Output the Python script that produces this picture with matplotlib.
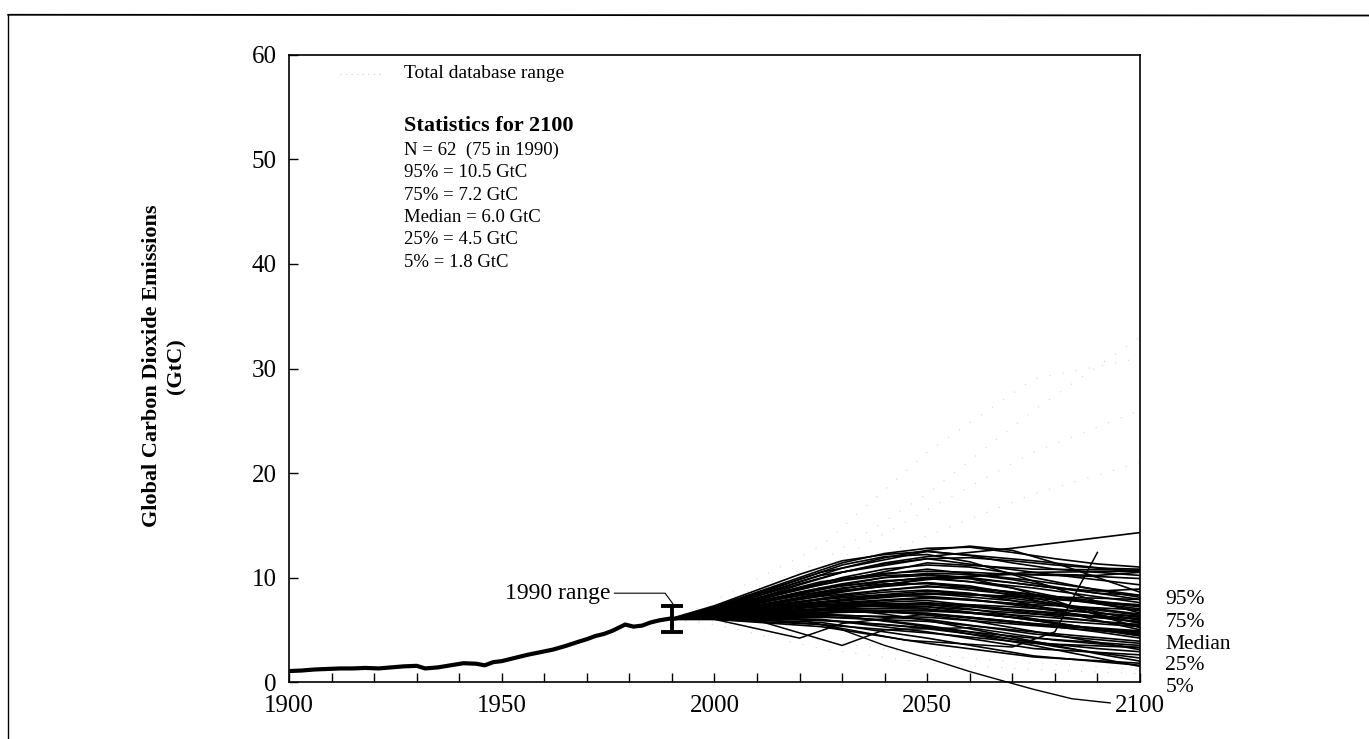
import matplotlib
matplotlib.use("Agg")
import matplotlib.pyplot as plt
from matplotlib.lines import Line2D

plt.rcParams['font.family'] = ['Liberation Serif', 'DejaVu Serif']

# historic emissions 1900-1990 (GtC)
hist_years = [1900, 1903, 1906, 1909, 1912, 1915, 1918, 1921, 1924, 1927, 1930, 1932,
              1935, 1938, 1941, 1944, 1946, 1948, 1950, 1953, 1956, 1959, 1962, 1965,
              1968, 1970, 1972, 1974, 1976, 1978, 1979, 1981, 1983, 1985, 1987, 1990]
hist_vals = [1.05, 1.1, 1.2, 1.25, 1.3, 1.3, 1.35, 1.3, 1.4, 1.5, 1.55, 1.3,
             1.4, 1.6, 1.8, 1.75, 1.6, 1.9, 2.0, 2.3, 2.6, 2.85, 3.1, 3.45,
             3.85, 4.1, 4.4, 4.6, 4.9, 5.3, 5.5, 5.3, 5.4, 5.7, 5.9, 6.1]

# scenarios reported every decade
years_dec = [1990, 2000, 2010, 2020, 2030, 2040, 2050, 2060, 2070, 2080, 2090, 2100]
scen_dec = [
    [6.0, 7.0, 8.2, 9.4, 10.5, 11.4, 12.0, 12.4, 12.8, 13.3, 13.8, 14.3],
    [6.0, 7.2, 8.6, 10.0, 11.4, 12.3, 12.8, 12.9, 12.4, 11.8, 11.3, 11.0],
    [6.1, 7.3, 8.8, 10.3, 11.6, 12.2, 12.5, 12.1, 11.4, 10.8, 10.5, 10.2],
    [6.0, 7.0, 8.2, 9.6, 10.9, 11.9, 12.6, 13.0, 12.6, 11.4, 10.0, 8.6],
    [6.0, 6.9, 8.0, 9.3, 10.5, 11.3, 11.8, 11.9, 11.6, 11.2, 10.9, 10.8],
    [5.9, 6.8, 7.8, 8.9, 10.0, 10.8, 11.2, 11.0, 10.4, 9.6, 8.8, 8.1],
    [6.0, 7.1, 8.4, 9.8, 11.2, 12.0, 12.2, 11.5, 10.3, 9.0, 7.7, 6.6],
    [6.1, 7.0, 8.0, 9.0, 9.9, 10.4, 10.6, 10.5, 10.3, 10.2, 10.1, 9.9],
    [6.0, 6.7, 7.5, 8.4, 9.3, 10.0, 10.4, 10.3, 9.8, 9.1, 8.5, 7.9],
    [6.0, 6.6, 7.3, 8.1, 8.9, 9.6, 10.0, 9.9, 9.5, 9.0, 8.5, 8.3],
    [6.0, 6.8, 7.6, 8.5, 9.2, 9.7, 9.9, 9.6, 9.0, 8.2, 7.5, 6.8],
    [6.0, 6.5, 7.1, 7.7, 8.3, 8.8, 9.1, 9.0, 8.6, 8.0, 7.5, 7.0],
    [6.0, 6.6, 7.2, 7.9, 8.6, 9.2, 9.5, 9.2, 8.5, 7.6, 6.7, 5.9],
    [6.0, 6.4, 6.9, 7.4, 7.9, 8.3, 8.5, 8.4, 8.0, 7.5, 7.0, 6.5],
    [6.0, 6.7, 7.5, 8.3, 9.0, 9.4, 9.4, 9.0, 8.3, 7.4, 6.5, 5.6],
    [6.0, 6.3, 6.7, 7.1, 7.5, 7.8, 8.0, 7.9, 7.5, 7.0, 6.6, 6.2],
    [6.0, 6.5, 7.0, 7.6, 8.2, 8.6, 8.8, 8.5, 7.8, 6.9, 5.9, 5.0],
    [6.0, 6.2, 6.5, 6.8, 7.1, 7.3, 7.4, 7.2, 6.8, 6.3, 5.8, 5.4],
    [6.0, 6.4, 6.8, 7.2, 7.4, 7.5, 7.4, 7.0, 6.4, 5.7, 5.0, 4.4],
    [6.0, 6.1, 6.3, 6.5, 6.7, 6.8, 6.8, 6.6, 6.2, 5.6, 5.1, 4.7],
    [6.0, 6.3, 6.6, 6.8, 6.9, 6.8, 6.4, 5.9, 5.2, 4.5, 3.8, 3.1],
    [6.0, 6.2, 6.3, 6.3, 6.2, 5.9, 5.4, 4.8, 4.1, 3.4, 2.8, 2.3],
    [6.0, 6.4, 6.7, 6.9, 6.9, 6.5, 5.9, 5.1, 4.3, 3.5, 2.7, 2.0],
    [6.0, 6.1, 6.1, 6.0, 5.8, 5.5, 5.1, 4.6, 4.1, 3.6, 3.2, 2.9],
    [6.0, 6.6, 7.3, 8.0, 8.7, 9.3, 9.8, 10.1, 10.3, 10.3, 10.2, 10.5],
    [6.0, 6.9, 7.9, 8.9, 9.7, 10.2, 10.3, 10.0, 9.5, 9.0, 8.7, 8.9],
    [6.0, 6.3, 6.6, 6.9, 7.2, 7.4, 7.5, 7.4, 7.2, 6.9, 6.6, 6.3],
    [6.0, 6.6, 7.2, 7.7, 8.1, 8.3, 8.2, 7.9, 7.4, 6.8, 6.2, 5.7],
    [6.0, 6.2, 6.4, 6.6, 6.7, 6.7, 6.5, 6.2, 5.8, 5.3, 4.8, 4.2],
    [6.0, 6.8, 7.7, 8.6, 9.4, 10.0, 10.2, 9.9, 9.0, 7.8, 6.4, 5.2],
]

# scenarios reported every 25 years
years_q = [1990, 2000, 2025, 2050, 2075, 2100]
scen_q = [
    [6.0, 7.1, 10.2, 11.8, 10.5, 9.3],
    [6.0, 7.0, 9.6, 10.8, 9.7, 8.3],
    [6.0, 6.8, 9.0, 10.0, 9.0, 7.6],
    [6.0, 6.9, 8.6, 9.5, 8.4, 7.3],
    [6.0, 6.7, 8.2, 9.2, 8.2, 7.2],
    [6.0, 6.6, 7.9, 8.7, 8.0, 7.4],
    [6.0, 6.5, 7.5, 8.1, 7.4, 6.9],
    [6.0, 6.6, 7.7, 8.5, 7.6, 6.4],
    [6.0, 6.4, 7.2, 7.6, 6.8, 6.0],
    [6.0, 6.3, 6.9, 7.2, 6.5, 6.1],
    [6.0, 6.5, 7.4, 7.8, 6.7, 5.8],
    [6.0, 6.2, 6.6, 6.9, 6.3, 5.5],
    [6.0, 6.4, 7.0, 7.0, 6.0, 5.3],
    [6.0, 6.3, 6.8, 6.6, 5.6, 4.9],
    [6.0, 6.2, 6.4, 6.2, 5.4, 4.6],
    [6.0, 6.5, 7.3, 7.2, 5.9, 4.5],
    [6.0, 6.1, 6.2, 5.8, 4.8, 3.9],
    [6.0, 6.3, 6.5, 6.0, 4.6, 3.7],
    [6.0, 6.1, 5.9, 5.2, 4.2, 3.5],
    [6.0, 6.0, 5.5, 4.7, 3.7, 3.3],
    [6.0, 6.2, 6.0, 4.8, 3.2, 2.6],
    [6.0, 6.1, 5.7, 4.2, 2.5, 1.6],
    [6.0, 6.0, 5.3, 3.7, 2.4, 1.8],
    [6.0, 6.4, 6.6, 5.3, 3.5, 1.5],
    [6.0, 6.9, 9.3, 11.4, 10.8, 10.7],
    [6.0, 7.2, 10.5, 12.5, 11.6, 10.5],
    [6.0, 6.7, 8.4, 9.9, 10.5, 10.6],
    [6.0, 6.4, 7.6, 8.4, 8.2, 7.9],
]

# scenarios with irregular reporting years
odd_years = [
    [1990, 2000, 2020, 2030, 2050, 2075, 2100],
    [1990, 2000, 2010, 2030, 2040, 2060, 2080, 2100],
    [1990, 2000, 2025, 2045, 2070, 2080, 2090],
]
odd_vals = [
    [6.0, 6.0, 4.2, 5.6, 6.5, 5.5, 4.8],
    [6.0, 6.2, 5.9, 3.5, 5.0, 5.2, 4.0, 3.3],
    [6.0, 6.3, 5.5, 4.0, 3.35, 4.8, 12.4],
]

# scenario that goes negative
neg_years = [1990, 2000, 2010, 2020, 2030, 2040, 2050, 2060, 2067, 2075, 2084, 2093]
neg_vals = [6.0, 6.3, 6.5, 6.0, 5.0, 3.5, 2.3, 1.0, 0.2, -0.7, -1.6, -2.0]

# faint lines of the total database range
db_years = [1990, 2000, 2025, 2050, 2075, 2100]
db_vals = [
    [6.0, 7.4, 11.5, 18.0, 26.0, 33.0],
    [6.0, 7.2, 10.8, 16.5, 22.0, 26.0],
    [6.0, 7.8, 13.0, 22.0, 29.0, 31.0],
    [6.0, 7.0, 9.5, 14.0, 18.0, 21.0],
    [6.0, 5.8, 4.0, 2.6, 1.8, 1.2],
    [6.0, 5.5, 3.2, 1.8, 1.2, 0.8],
]

# statistics text
stats_lines = ["N = 62  (75 in 1990)", "95% = 10.5 GtC", "75% = 7.2 GtC",
               "Median = 6.0 GtC", "25% = 4.5 GtC", "5% = 1.8 GtC"]
pct_labels = ["95%", "75%", "Median", "25%", "5%"]
pct_pos = [7.9, 5.7, 3.6, 1.6, -0.5]

fig = plt.figure(figsize=(13.69, 7.39), dpi=100)
ax = fig.add_axes([0.2111, 0.0771, 0.6216, 0.8485])

# page frame from the scan
fig.add_artist(Line2D([0.006, 1.0], [0.980, 0.979], color='black', lw=1.3,
                      transform=fig.transFigure))
fig.add_artist(Line2D([0.006, 0.006], [0.980, 0.0], color='black', lw=1.0,
                      transform=fig.transFigure))

for vals in db_vals:
    ax.plot(db_years, vals, color='#d6d6d6', lw=0.8, ls=(0, (1, 11)))

for vals in scen_dec:
    ax.plot(years_dec, vals, color='black', lw=1.2)
for vals in scen_q:
    ax.plot(years_q, vals, color='black', lw=1.2)
for yrs, vals in zip(odd_years, odd_vals):
    ax.plot(yrs, vals, color='black', lw=1.1)
ax.plot(neg_years, neg_vals, color='black', lw=1.0, clip_on=False)

ax.plot(hist_years, hist_vals, color='black', lw=3.0, solid_capstyle='round')

# 1990 range bar
ax.errorbar([1990], [6.05], yerr=[[1.25], [1.25]], fmt='none', ecolor='black',
            elinewidth=2.8, capsize=8, capthick=2.8)
ax.plot([1976.5, 1988.4, 1990.2], [8.5, 8.5, 7.5], color='black', lw=0.8)
ax.text(1975.5, 8.5, "1990 range", fontsize=17, ha='right', va='center')

# legend-ish text block
ax.plot([1912, 1922], [58.2, 58.2], color='#cccccc', lw=0.8, ls=(0, (1, 4)))
ax.text(1927, 58.2, "Total database range", fontsize=14, va='center')
ax.text(1927, 53.2, "Statistics for 2100", fontsize=16, fontweight='bold', va='center')
for i, s in enumerate(stats_lines):
    ax.text(1927, 50.9 - 2.15 * i, s, fontsize=13.5, va='center')

for lab, y in zip(pct_labels, pct_pos):
    ax.text(2106, y, lab, fontsize=15.5, va='center', ha='left', clip_on=False)

ax.set_xlim(1900, 2100)
ax.set_ylim(0, 60)
ax.set_xticks([1900, 1950, 2000, 2050, 2100])
ax.set_xticks(range(1900, 2101, 10), minor=True)
ax.set_yticks(range(0, 61, 10))
ax.tick_params(axis='both', which='both', direction='in', labelsize=18, width=1.0,
               length=6.5, pad=9)
for sp in ax.spines.values():
    sp.set_linewidth(1.2)

fig.text(0.120, 0.505, "Global Carbon Dioxide Emissions\n(GtC)", rotation=90,
         ha='center', va='center', fontsize=16, fontweight='bold',
         multialignment='center', linespacing=1.3)

fig.savefig("out.png", dpi=100)
